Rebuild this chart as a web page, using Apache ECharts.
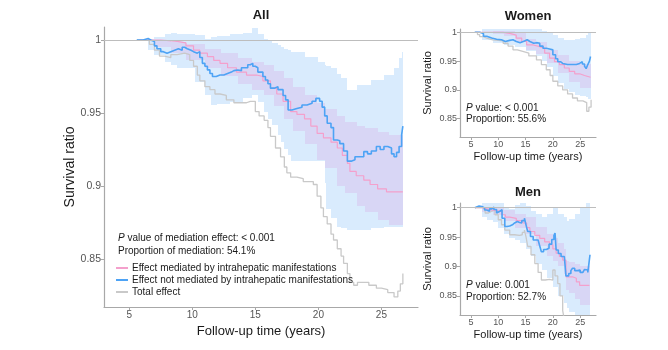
<!DOCTYPE html>
<html>
<head>
<meta charset="utf-8">
<script src="https://cdn.jsdelivr.net/npm/echarts@6/dist/echarts.min.js"></script>
<style>
html,body{margin:0;padding:0;background:#fff;}
#main{width:668px;height:350px;}
</style>
</head>
<body>
<div id="main"></div>
<script>
// ---- data (time in years, survival ratio) ----
var xTicks = [5, 10, 15, 20, 25];
var yTicks = [0.85, 0.9, 0.95, 1];

// All
var allTotal = [[5.6,1],[6.1,1],[6.6,0.997],[7.0,0.993],[7.4,0.989],[7.8,0.988],[8.3,0.990],[8.8,0.991],[9.4,0.990],[9.8,0.986],[10.1,0.982],[10.4,0.976],[10.6,0.972],[11.0,0.968],[11.4,0.966],[11.8,0.963],[12.2,0.962],[12.7,0.959],[13.3,0.957],[13.9,0.957],[14.3,0.958],[14.6,0.958],[15.0,0.951],[15.3,0.948],[15.7,0.945],[16.0,0.940],[16.2,0.934],[16.6,0.926],[17.0,0.920],[17.3,0.913],[17.5,0.909],[17.8,0.906],[18.3,0.905],[18.8,0.903],[19.3,0.903],[19.6,0.901],[19.9,0.893],[20.2,0.885],[20.4,0.879],[20.7,0.874],[21.0,0.867],[21.2,0.863],[21.5,0.857],[21.8,0.852],[22.0,0.847],[22.3,0.840],[22.5,0.834],[22.8,0.832],[23.1,0.834],[23.6,0.834],[24.0,0.832],[24.6,0.830],[25.0,0.829],[25.5,0.827],[26.0,0.824],[26.3,0.828],[26.5,0.833],[26.7,0.840]];
var allMed = [[5.8,1],[6.7,1],[7.5,0.999],[8.8,0.998],[9.5,0.996],[10.1,0.993],[10.6,0.991],[11.2,0.9886],[11.7,0.986],[12.2,0.984],[12.8,0.981],[13.5,0.978],[14.3,0.976],[15.1,0.975],[15.6,0.972],[16.2,0.967],[16.7,0.963],[17.2,0.958],[17.8,0.951],[18.3,0.949],[18.9,0.946],[19.4,0.941],[19.9,0.936],[20.4,0.933],[21.0,0.930],[21.5,0.926],[21.9,0.921],[22.3,0.9155],[22.5,0.910],[23.0,0.907],[23.6,0.904],[24.1,0.901],[24.7,0.898],[25.4,0.896],[26.7,0.896]];
var allNot = [[5.6,1],[6.1,1.001],[6.5,1.0],[6.7,0.999],[7.0,0.996],[7.2,0.994],[7.5,0.992],[7.7,0.991],[8.0,0.992],[8.3,0.993],[8.6,0.994],[8.9,0.993],[9.2,0.995],[9.4,0.994],[9.6,0.993],[9.9,0.992],[10.1,0.991],[10.4,0.992],[10.6,0.988],[10.8,0.984],[11.0,0.982],[11.2,0.9795],[11.4,0.977],[11.6,0.975],[11.9,0.976],[12.2,0.976],[12.5,0.977],[12.8,0.978],[13.1,0.979],[13.3,0.9795],[13.6,0.979],[13.9,0.981],[14.1,0.981],[14.4,0.983],[14.6,0.984],[14.8,0.982],[15.0,0.981],[15.2,0.978],[15.4,0.978],[15.6,0.975],[15.8,0.9726],[16.0,0.970],[16.2,0.967],[16.5,0.968],[16.8,0.966],[17.0,0.966],[17.2,0.962],[17.4,0.959],[17.6,0.952],[17.9,0.953],[18.3,0.954],[18.7,0.9555],[19.1,0.9566],[19.5,0.958],[19.8,0.960],[20.1,0.958],[20.3,0.954],[20.5,0.948],[20.7,0.943],[21.0,0.940],[21.2,0.9315],[21.5,0.931],[21.7,0.929],[22.0,0.924],[22.3,0.917],[22.6,0.918],[22.9,0.920],[23.2,0.920],[23.6,0.9235],[23.9,0.922],[24.2,0.924],[24.6,0.927],[24.9,0.925],[25.2,0.927],[25.5,0.926],[25.8,0.922],[26.0,0.920],[26.2,0.923],[26.4,0.927],[26.6,0.935],[26.7,0.941]];
var allNotBandT  = [5.6,6.5,7,7.8,8.3,8.8,10.2,11,11.5,12,13,14,14.7,15.2,15.7,16,16.3,16.8,17,17.3,17.6,17.8,18.9,20,20.5,20.6,21,21.5,21.8,22.3,23.1,24.2,25.2,26,26.4,26.6,26.7];
var allNotBandHi = [1.0,1.001,1.002,1.004,1.0046,1.004,1.0034,1.001,1.002,1.003,1.004,1.005,1.008,1.004,1.001,1.0,0.998,0.9966,0.995,0.994,0.993,0.992,0.9886,0.985,0.983,0.982,0.9806,0.977,0.974,0.966,0.969,0.9726,0.976,0.9806,0.988,0.992,0.9966];
var allNotBandLo = [1.0,0.993,0.9897,0.985,0.983,0.9806,0.9714,0.9623,0.9555,0.956,0.9577,0.960,0.962,0.9577,0.951,0.946,0.942,0.935,0.930,0.925,0.921,0.917,0.917,0.917,0.902,0.884,0.878,0.872,0.871,0.870,0.870,0.871,0.872,0.872,0.872,0.872,0.872];
var allMedBandT  = [5.8,7,8.3,9.5,11,12.3,13.6,14.7,15.7,16.5,17.3,18,18.9,19.9,20.5,21.5,22.1,23.1,23.7,24.7,25.6,26.7];
var allMedBandHi = [1.0,1.0,0.9989,0.997,0.994,0.991,0.9875,0.985,0.983,0.979,0.9738,0.968,0.962,0.957,0.953,0.948,0.944,0.941,0.9395,0.937,0.935,0.935];
var allMedBandLo = [1.0,0.995,0.991,0.986,0.9806,0.975,0.970,0.966,0.962,0.955,0.946,0.938,0.929,0.918,0.912,0.900,0.895,0.886,0.882,0.877,0.873,0.872];

// Women
var wTotal = [[5.7,1],[6.2,0.996],[6.6,0.9925],[7.3,0.990],[7.9,0.987],[9,0.985],[10.9,0.981],[11.8,0.976],[12.7,0.9695],[13.5,0.967],[14.5,0.964],[15.6,0.959],[17.0,0.952],[17.9,0.944],[18.8,0.935],[19.5,0.925],[20.0,0.915],[20.9,0.907],[21.8,0.900],[22.7,0.893],[23.6,0.886],[24.5,0.881],[25.5,0.878],[26.2,0.863],[26.6,0.870],[27.0,0.883]];
var wMed = [[5.8,1],[9.1,1],[10.9,0.998],[12.1,0.995],[13.3,0.990],[14.3,0.984],[15.2,0.978],[16.4,0.975],[17.6,0.972],[18.5,0.964],[19.4,0.955],[20.3,0.949],[21.2,0.944],[22.1,0.938],[23.0,0.932],[24.0,0.928],[24.9,0.925],[25.8,0.922],[26.9,0.921]];
var wNot = [[5.7,1],[6.2,1],[6.6,0.998],[7.3,0.993],[7.9,0.990],[8.8,0.988],[9.7,0.987],[10.6,0.984],[11.3,0.986],[12.1,0.987],[12.7,0.984],[13.3,0.982],[14.0,0.985],[14.8,0.987],[15.3,0.984],[15.8,0.981],[16.5,0.982],[17.0,0.981],[17.6,0.976],[18.2,0.9724],[18.8,0.971],[19.4,0.9695],[20.0,0.961],[20.5,0.954],[20.9,0.949],[21.4,0.946],[21.8,0.944],[22.7,0.944],[23.6,0.944],[24.3,0.946],[24.9,0.949],[25.4,0.945],[25.8,0.941],[26.1,0.937],[26.4,0.944],[26.7,0.950],[26.9,0.958]];
var wNotBandT  = [5.7,7,9,11,13,15,17,18,19,20,21,22,23,24,25,26,26.5,26.9];
var wNotBandHi = [1.0,1.005,1.005,1.005,1.005,1.005,1.005,1.003,1.0,0.996,0.990,0.987,0.987,0.988,0.990,0.995,1.0,1.005];
var wNotBandLo = [1.0,0.986,0.981,0.978,0.975,0.968,0.958,0.950,0.940,0.925,0.912,0.902,0.896,0.892,0.890,0.888,0.885,0.885];
var wMedBandT  = [5.8,9,11,13,15,17,19,21,23,25,26.9];
var wMedBandHi = [1,1.002,1.002,0.998,0.988,0.983,0.970,0.960,0.950,0.945,0.943];
var wMedBandLo = [1,0.997,0.993,0.984,0.970,0.963,0.946,0.930,0.914,0.903,0.898];

// Men
var mTotal = [[5.7,1],[6.5,1],[7.0,0.9995],[7.6,0.991],[8.2,0.994],[8.8,0.996],[9.4,0.988],[10.0,0.9795],[10.6,0.971],[11.2,0.962],[12.1,0.954],[13.0,0.953],[13.9,0.954],[14.4,0.958],[14.8,0.962],[15.1,0.950],[15.4,0.934],[16.0,0.920],[16.7,0.905],[17.3,0.890],[17.9,0.877],[18.6,0.878],[19.4,0.877],[20.0,0.894],[20.4,0.884],[20.9,0.871],[21.3,0.850],[21.8,0.825],[22.1,0.810]];
var mMed = [[5.8,1],[6.5,1],[7.2,0.9966],[8.5,0.995],[9.7,0.994],[10.6,0.988],[11.3,0.984],[12.1,0.982],[13.3,0.978],[14.5,0.974],[15.2,0.966],[15.8,0.9595],[16.7,0.953],[17.6,0.948],[18.5,0.942],[19.4,0.937],[20.0,0.930],[20.6,0.9225],[21.2,0.917],[21.8,0.911],[22.4,0.8825],[23.6,0.880],[24.3,0.874],[24.9,0.868],[26.7,0.868]];
var mNot = [[5.7,1],[6.0,1.003],[6.5,1.002],[7.0,0.9995],[7.5,0.996],[7.9,0.994],[8.4,0.998],[8.8,1.001],[9.2,0.997],[9.7,0.991],[10.0,0.994],[10.3,0.9966],[10.7,0.982],[11.2,0.968],[11.6,0.969],[12.1,0.971],[12.6,0.974],[13.0,0.9766],[13.5,0.975],[13.9,0.974],[14.3,0.978],[14.8,0.982],[15.1,0.970],[15.4,0.9595],[15.9,0.951],[16.4,0.945],[17.3,0.945],[17.6,0.935],[17.9,0.925],[18.3,0.929],[18.8,0.931],[19.3,0.938],[19.8,0.946],[20.2,0.953],[20.4,0.957],[20.6,0.928],[21.0,0.922],[21.5,0.917],[22.1,0.917],[22.4,0.884],[22.9,0.888],[23.3,0.893],[23.6,0.897],[24.0,0.893],[24.5,0.894],[25.0,0.890],[25.5,0.891],[25.8,0.895],[26.1,0.894],[26.4,0.890],[26.6,0.905],[26.8,0.920]];
var mNotBandT  = [5.7,7,8,9,10,11,12,13,14,15,16,17,18,19,20,21,22,22.5,23,24,25,26,26.8];
var mNotBandHi = [1,1.008,1.008,1.008,1.008,1.0,0.997,1.005,1.008,1.003,0.995,0.99,0.985,0.99,1.0,0.99,0.985,0.978,0.98,0.99,1.0,1.008,1.008];
var mNotBandLo = [1,0.985,0.979,0.975,0.965,0.955,0.948,0.945,0.94,0.93,0.918,0.905,0.894,0.88,0.865,0.85,0.838,0.83,0.822,0.815,0.81,0.81,0.81];
var mMedBandT  = [5.8,7,9,11,13,15,17,19,20,21,22,22.4,23,24,25,26.8];
var mMedBandHi = [1,1.001,1.0,0.996,0.99,0.985,0.968,0.955,0.948,0.94,0.93,0.91,0.908,0.905,0.9,0.9];
var mMedBandLo = [1,0.992,0.988,0.977,0.966,0.955,0.935,0.918,0.91,0.9,0.888,0.86,0.855,0.845,0.835,0.828];

var legendNames = ['Effect mediated by intrahepatic manifestations', 'Effect not mediated by intrahepatic manifestations', 'Total effect'];

// ---- styling ----
var FONT = "'Liberation Sans', Arial, sans-serif";
var cBlue = '#4da3f5', cPink = '#f4a0cc', cGray = '#c9c9c9';
var bandBlue = 'rgba(170,210,250,0.45)', bandPink = 'rgba(215,165,225,0.3)';

var chart = echarts.init(document.getElementById('main'));

function xAx(i, size) {
  return {
    type: 'value', gridIndex: i, min: 3, max: 27.9,
    name: 'Follow-up time (years)', nameLocation: 'middle',
    nameGap: i == 0 ? 17 : 14,
    nameTextStyle: {fontFamily: FONT, fontSize: i == 0 ? 13 : 11, color: '#1a1a1a'},
    axisLine: {lineStyle: {color: '#a8a8a8', width: 1.2}},
    axisTick: {customValues: xTicks, length: 3, lineStyle: {color: '#a8a8a8'}},
    axisLabel: {customValues: xTicks, fontFamily: FONT, fontSize: size, color: '#555', margin: 3},
    splitLine: {show: false}
  };
}
function yAx(i, min, max, size) {
  return {
    type: 'value', gridIndex: i, min: min, max: max,
    name: 'Survival ratio', nameLocation: 'middle',
    nameGap: i == 0 ? 25 : 27,
    nameTextStyle: {fontFamily: FONT, fontSize: i == 0 ? 14 : 11, color: '#1a1a1a'},
    axisLine: {lineStyle: {color: '#a8a8a8', width: 1.2}},
    axisTick: {customValues: yTicks, length: 3, lineStyle: {color: '#a8a8a8'}},
    axisLabel: {customValues: yTicks, fontFamily: FONT, fontSize: size, color: '#555', margin: 3},
    splitLine: {show: false}
  };
}

// confidence band: one rect per step, from t[k] to t[k+1], between lo[k] and hi[k]
function band(i, t, lo, hi, color) {
  var rows = [];
  for (var k = 0; k < t.length - 1; k++) rows.push([t[k], lo[k], hi[k], t[k + 1]]);
  return {
    type: 'custom', xAxisIndex: i, yAxisIndex: i, silent: true,
    encode: {x: [0, 3], y: [1, 2]},
    renderItem: function (params, api) {
      var a = api.coord([api.value(0), api.value(2)]);
      var b = api.coord([api.value(3), api.value(1)]);
      var x0 = Math.round(a[0]), x1 = Math.round(b[0]);
      var y0 = Math.round(a[1]), y1 = Math.round(b[1]);
      var cs = params.coordSys;
      var r = echarts.graphic.clipRectByRect(
        {x: x0, y: y0, width: x1 - x0, height: y1 - y0},
        {x: cs.x, y: cs.y, width: cs.width, height: cs.height});
      return r && {type: 'rect', shape: r, style: {fill: color}};
    },
    data: rows
  };
}

function lines(i, names, total, med, not) {
  return [{
    type: 'line', name: names[2], xAxisIndex: i, yAxisIndex: i, step: 'end', symbol: 'none',
    color: cGray, lineStyle: {color: cGray, width: 1.3}, data: total,
    markLine: {silent: true, symbol: 'none', label: {show: false},
      lineStyle: {color: '#bdbdbd', width: 1, type: 'solid'}, data: [{yAxis: 1}]}
  }, {
    type: 'line', name: names[0], xAxisIndex: i, yAxisIndex: i, step: 'end', symbol: 'none',
    color: cPink, lineStyle: {color: cPink, width: 1.2}, data: med
  }, {
    type: 'line', name: names[1], xAxisIndex: i, yAxisIndex: i, step: 'end', symbol: 'none',
    color: cBlue, lineStyle: {color: cBlue, width: 1.6}, data: not
  }];
}

var series = [].concat(
  band(0, allNotBandT, allNotBandLo, allNotBandHi, bandBlue),
  band(0, allMedBandT, allMedBandLo, allMedBandHi, bandPink),
  lines(0, legendNames, allTotal, allMed, allNot),
  band(1, wNotBandT, wNotBandLo, wNotBandHi, bandBlue),
  band(1, wMedBandT, wMedBandLo, wMedBandHi, bandPink),
  lines(1, ['w-med', 'w-not', 'w-total'], wTotal, wMed, wNot),
  band(2, mNotBandT, mNotBandLo, mNotBandHi, bandBlue),
  band(2, mMedBandT, mMedBandLo, mMedBandHi, bandPink),
  lines(2, ['m-med', 'm-not', 'm-total'], mTotal, mMed, mNot)
);

function txt(x, y, s, size, bold, align) {
  return {
    type: 'text', x: x, y: y, silent: true, z: 100,
    style: {
      text: s, fontFamily: FONT, fontSize: size, fontWeight: bold ? 'bold' : 'normal',
      fill: '#1a1a1a', align: align || 'left', verticalAlign: 'middle',
      rich: {i: {fontStyle: 'italic', fontFamily: FONT, fontSize: size, fill: '#1a1a1a'}}
    }
  };
}

chart.setOption({
  animation: false,
  grid: [
    {left: 104, top: 27, width: 314, height: 280},
    {left: 460, top: 29, width: 136, height: 108},
    {left: 460, top: 203, width: 136, height: 112}
  ],
  xAxis: [xAx(0, 10), xAx(1, 9), xAx(2, 9)],
  yAxis: [yAx(0, 0.8171, 1.0089, 10.5), yAx(1, 0.8183, 1.0057, 9), yAx(2, 0.8175, 1.008, 9)],
  legend: {
    data: legendNames, orient: 'vertical', left: 116, top: 262, padding: 0,
    itemWidth: 12, itemHeight: 2, itemGap: 0, icon: 'rect',
    textStyle: {fontFamily: FONT, fontSize: 10, color: '#1a1a1a', lineHeight: 12, padding: [0, 0, 0, -1]},
    selectedMode: false
  },
  graphic: [
    txt(261, 15, 'All', 13, true, 'center'),
    txt(528, 16, 'Women', 13, true, 'center'),
    txt(528, 192, 'Men', 13, true, 'center'),
    txt(118, 238, '{i|P} value of mediation effect: < 0.001', 10),
    txt(118, 251, 'Proportion of mediation: 54.1%', 10),
    txt(466, 108, '{i|P} value: < 0.001', 10),
    txt(466, 119.5, 'Proportion: 55.6%', 10),
    txt(466, 285, '{i|P} value: 0.001', 10),
    txt(466, 297, 'Proportion: 52.7%', 10)
  ],
  series: series
});
</script>
</body>
</html>
